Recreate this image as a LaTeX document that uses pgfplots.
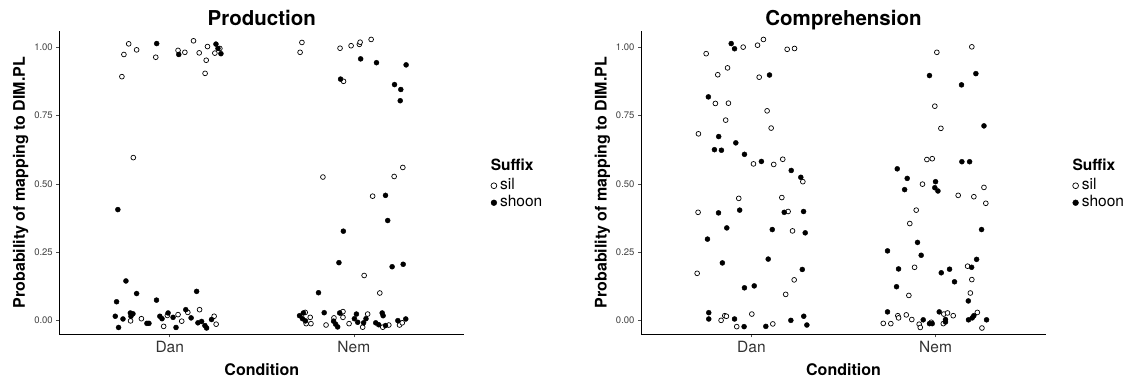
\documentclass[border=0pt]{standalone}
\usepackage{fontspec}
\setmainfont{TeX Gyre Heros}
\usepackage{pgfplots}
\pgfplotsset{compat=1.18}
\pgfplotsset{
 panel/.style={
  scale only axis, width=405pt, height=303.6pt,
  xmin=0.4, xmax=2.6, ymin=-0.05, ymax=1.06,
  axis lines=left, axis line style={-, line width=0.9pt},
  xtick={1,2}, xticklabels={Dan,Nem},
  ytick={0,0.25,0.5,0.75,1}, yticklabels={0.00,0.25,0.50,0.75,1.00},
  tick align=outside, major tick length=3pt, tick style={black!70, line width=0.6pt},
  xticklabel style={font=\fontsize{15.5}{17}\selectfont, text=black!80, anchor=base, yshift=-15.5pt},
  yticklabel style={font=\fontsize{9.5}{11}\selectfont, text=black!75},
  /pgf/number format/assume math mode=true,
  xlabel={\textbf{Condition}}, ylabel={\textbf{Probability of mapping to DIM.PL}},
  label style={font=\fontsize{16}{18}\selectfont},
  xlabel style={at={(axis description cs:0.5,-0.135)}, anchor=base},
  ylabel style={at={(axis description cs:-0.0847,0.5)}, anchor=base, rotate=0},
  clip=false,
  legend style={draw=none, fill=none, at={(1.0635,0.518)}, anchor=north west,
    font=\fontsize{15.5}{17}\selectfont, inner sep=0pt, row sep=0pt,
    nodes={text height=11pt, text depth=4pt, inner sep=1pt}},
  legend cell align=left,
  legend image code/.code={\path (0pt,0pt) (8.5pt,0pt); \draw[#1, mark repeat=1, mark size=2.9pt] plot coordinates {(3.5pt,0pt)};},
 },
 sil/.style={only marks, mark=*, mark size=2.4pt, mark options={fill=white, draw=black, line width=0.7pt}},
 shoon/.style={only marks, mark=*, mark size=2.5pt, mark options={fill=black, draw=black}},
}
\begin{document}
\begin{tikzpicture}
\useasboundingbox (0,0) rectangle (1135pt,381pt);
% ---------------- Production ----------------
\begin{axis}[panel, at={(59.3pt,46.7pt)}, anchor=south west]
\addplot[sil] coordinates {
(0.777,1.012)(0.751,0.973)(0.820,0.990)(0.740,0.892)(0.924,0.963)(1.045,0.988)(1.082,0.981)
(1.129,1.023)(1.160,0.979)(1.205,1.002)(1.198,0.952)(1.192,0.904)(1.245,0.978)(1.272,0.995)
(0.802,0.596)
(0.787,-0.001)(0.846,0.007)(0.967,-0.021)(0.987,0.019)(1.045,0.022)(1.065,-0.002)(1.098,0.030)
(1.162,0.040)(1.241,0.016)(1.252,-0.013)
(1.718,1.017)(1.708,0.981)(1.925,0.996)(1.985,1.005)(2.030,1.010)(2.034,1.018)(2.094,1.028)
(1.944,0.875)(1.832,0.525)(2.266,0.560)(2.219,0.527)(2.102,0.455)(2.056,0.165)(2.141,0.101)
(1.736,0.030)(1.763,0.012)(1.767,-0.011)(1.741,-0.011)(1.849,-0.016)(1.892,0.010)(1.930,0.028)
(1.941,0.033)(1.941,0.012)(1.974,-0.011)(2.048,-0.024)(2.075,0.024)(2.157,-0.024)(2.190,-0.016)
(2.248,-0.016)(2.263,-0.008)
};
\addlegendentry{sil}
\addplot[shoon] coordinates {
(0.929,1.013)(1.049,0.973)(1.251,1.011)(1.278,0.976)(1.262,0.995)(0.718,0.406)
(0.762,0.145)(0.820,0.099)(0.711,0.069)(0.928,0.075)(1.146,0.107)(0.704,0.016)(0.746,0.006)
(0.722,-0.025)(0.786,0.028)(0.800,0.025)(0.789,0.016)(0.876,-0.010)(0.887,-0.010)(0.946,0.016)
(0.958,0.007)(0.991,0.028)(1.018,0.012)(1.034,-0.025)(1.087,0.040)(1.116,0.010)(1.153,-0.008)
(1.173,-0.003)(1.191,-0.018)(1.200,-0.027)(1.227,0.004)
(1.928,0.883)(2.037,0.957)(2.123,0.943)(2.284,0.935)(2.221,0.863)(2.255,0.845)(2.252,0.804)
(2.172,0.458)(2.184,0.366)(1.943,0.327)(1.919,0.212)(2.208,0.197)(2.268,0.206)(1.808,0.102)
(1.705,0.018)(1.726,0.028)(1.721,0.007)(1.737,-0.001)(1.839,0.029)(1.890,-0.002)(1.901,-0.013)
(1.912,-0.023)(1.923,0.028)(2.014,0.024)(2.003,0.007)(2.021,-0.006)(2.066,0.007)(2.053,-0.008)
(2.119,-0.008)(2.135,-0.015)(2.154,0.028)(2.159,0.018)(2.172,-0.018)(2.239,0.000)(2.282,0.006)
};
\addlegendentry{shoon}
\node[anchor=base, font=\bfseries\fontsize{20.5}{23}\selectfont] at (rel axis cs:0.5,1) [yshift=4.7pt] {Production};
\node[anchor=base west, font=\bfseries\fontsize{15.5}{17}\selectfont] at (rel axis cs:1.0568,0.539) {Suffix};
\end{axis}
% ---------------- Comprehension ----------------
\begin{axis}[panel, at={(641pt,46.7pt)}, anchor=south west]
\addplot[sil] coordinates {
(0.754,0.976)(0.955,1.000)(1.033,1.007)(1.065,1.028)(1.194,0.992)(1.234,0.995)(0.870,0.924)
(0.817,0.899)(1.042,0.890)(0.804,0.794)(0.875,0.795)(1.085,0.767)(0.860,0.733)(1.107,0.704)
(0.712,0.683)(1.011,0.573)(1.121,0.571)(1.170,0.590)(1.279,0.508)(0.710,0.396)(0.931,0.447)
(1.165,0.450)(1.199,0.399)(1.223,0.328)(0.705,0.173)(1.232,0.149)(1.186,0.096)(0.855,0.018)
(0.864,0.016)(0.835,0.001)(0.920,-0.022)(1.002,0.024)(1.116,-0.012)
(2.197,1.001)(2.007,0.981)(1.996,0.784)(2.029,0.703)(1.953,0.589)(1.982,0.592)(1.929,0.499)
(2.263,0.487)(2.123,0.458)(2.208,0.453)(2.273,0.429)(1.895,0.404)(1.860,0.355)(1.886,0.195)
(2.174,0.199)(2.197,0.150)(2.189,0.101)(1.855,0.092)(1.716,-0.010)(1.757,-0.011)(1.795,0.018)
(1.799,0.010)(1.841,0.021)(1.871,0.004)(1.911,-0.013)(1.917,-0.025)(1.977,-0.006)(2.042,-0.011)
(2.045,0.024)(2.065,0.028)(2.096,0.018)(2.227,0.030)(2.252,-0.027)
};
\addlegendentry{sil}
\addplot[shoon] coordinates {
(0.890,1.013)(0.908,0.994)(1.098,0.898)(0.766,0.818)(0.822,0.673)(0.799,0.625)(0.837,0.623)
(0.915,0.650)(0.962,0.608)(1.054,0.582)(1.216,0.549)(1.268,0.524)(0.821,0.394)(0.936,0.404)
(0.866,0.339)(0.761,0.298)(1.113,0.333)(1.178,0.396)(1.283,0.399)(1.292,0.321)(0.842,0.211)
(1.091,0.225)(1.276,0.187)(0.962,0.120)(1.015,0.127)(0.768,0.029)(0.768,0.006)(0.908,0.006)
(0.960,-0.022)(1.078,-0.021)(1.214,0.001)(1.284,0.016)(1.301,-0.016)
(1.967,0.896)(2.219,0.903)(2.141,0.862)(2.263,0.712)(2.143,0.581)(2.185,0.581)(1.792,0.555)
(1.846,0.520)(2.000,0.508)(1.996,0.486)(2.013,0.474)(1.832,0.479)(2.250,0.333)(1.902,0.286)
(1.739,0.255)(1.922,0.239)(2.223,0.224)(1.799,0.189)(2.076,0.188)(2.196,0.195)(2.031,0.175)
(2.103,0.142)(1.788,0.124)(2.178,0.072)(1.739,0.032)(1.933,0.003)(1.967,-0.011)(1.982,-0.011)
(2.020,0.032)(2.054,0.004)(2.054,-0.005)(2.179,0.003)(2.199,0.010)(2.208,0.018)(2.277,0.003)
};
\addlegendentry{shoon}
\node[anchor=base, font=\bfseries\fontsize{20.5}{23}\selectfont] at (rel axis cs:0.5,1) [yshift=4.7pt] {Comprehension};
\node[anchor=base west, font=\bfseries\fontsize{15.5}{17}\selectfont] at (rel axis cs:1.0568,0.539) {Suffix};
\end{axis}
\end{tikzpicture}
\end{document}
